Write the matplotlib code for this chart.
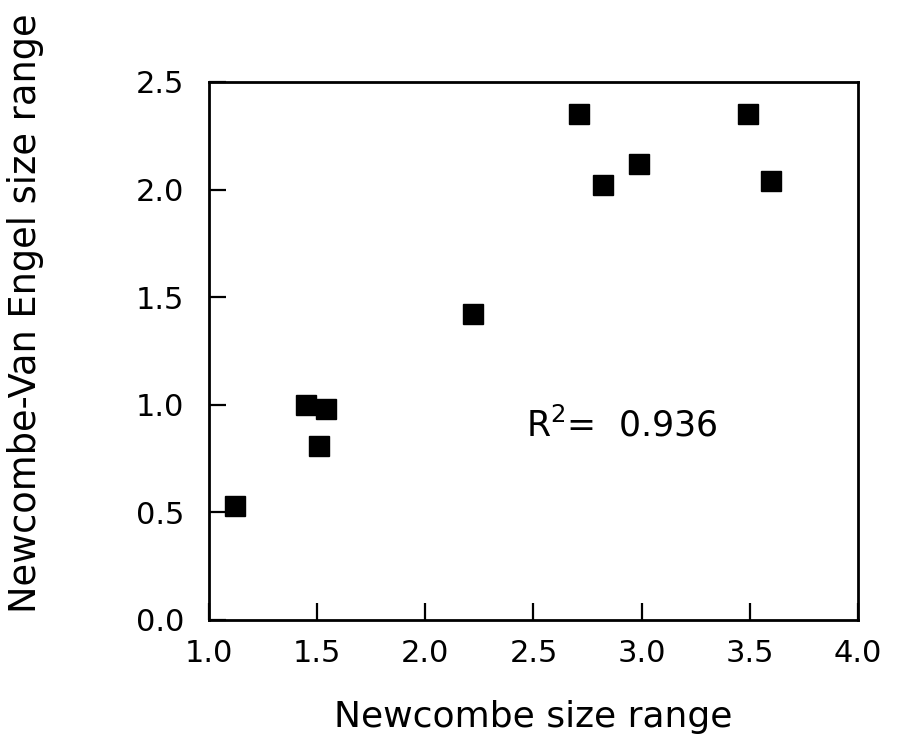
import matplotlib
matplotlib.use("Agg")
import matplotlib.pyplot as plt

# Data
newcombe = [1.12, 1.45, 1.54, 1.51, 2.22, 2.71, 2.82, 2.99, 3.49, 3.60]
van_engel = [0.53, 1.00, 0.98, 0.81, 1.42, 2.35, 2.02, 2.12, 2.35, 2.04]
x_ticks = [1.0, 1.5, 2.0, 2.5, 3.0, 3.5, 4.0]
y_ticks = [0.0, 0.5, 1.0, 1.5, 2.0, 2.5]
r2_text = "R$^{2}$=  0.936"

plt.rcParams['font.family'] = ['DejaVu Sans']
plt.rcParams['mathtext.fontset'] = 'dejavusans'

fig = plt.figure(figsize=(8.97, 7.38), dpi=100)
ax = fig.add_axes([0.233, 0.160, 0.9565 - 0.233, 0.889 - 0.160])

ax.plot(newcombe, van_engel, linestyle='none', marker='s', markersize=14,
        color='black', markeredgecolor='black')

ax.set_xlim(1.0, 4.0)
ax.set_ylim(0.0, 2.5)
ax.set_xticks(x_ticks)
ax.set_yticks(y_ticks)
ax.set_xticklabels([f"{v:.1f}" for v in x_ticks])
ax.set_yticklabels([f"{v:.1f}" for v in y_ticks])

for s in ax.spines.values():
    s.set_linewidth(2.0)
ax.tick_params(axis='both', direction='in', length=12, width=1.6,
               labelsize=22)
ax.tick_params(axis='x', pad=14)
ax.tick_params(axis='y', pad=18)

ax.set_xlabel("Newcombe size range", fontsize=26, labelpad=23)
ax.set_ylabel("Newcombe-Van Engel size range", fontsize=26.5)
ax.yaxis.set_label_coords(-0.255, 0.57)

ax.text(2.466, 0.851, r2_text, fontsize=25, ha='left', va='baseline')

fig.savefig("out.png", dpi=100)
